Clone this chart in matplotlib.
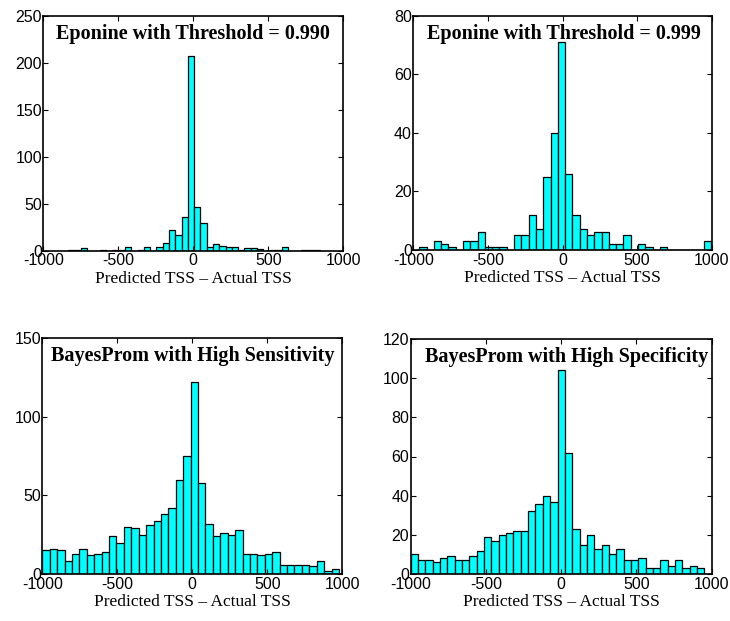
import matplotlib
matplotlib.use("Agg")
import matplotlib.pyplot as plt
import numpy as np

plt.rcParams['axes.unicode_minus'] = False

# histogram counts (40 bins each)
titles = ["Eponine with Threshold = 0.990",
          "Eponine with Threshold = 0.999",
          "BayesProm with High Sensitivity",
          "BayesProm with High Specificity"]

counts_ep990 = [1, 1, 3, 0, 0, 1, 0, 1, 1, 4,
                0, 1, 4, 0, 4, 8, 22, 17, 36, 207,
                46, 29, 4, 7, 5, 4, 4, 1, 3, 3,
                2, 0, 1, 1, 4, 0, 0, 1, 1, 1]
counts_ep999 = [1, 0, 3, 2, 1, 0, 3, 3, 6, 1,
                1, 1, 0, 5, 5, 12, 7, 25, 40, 71,
                26, 12, 7, 5, 6, 6, 2, 2, 5, 0,
                2, 1, 0, 1, 0, 0, 0, 0, 0, 3]
counts_bp_sens = [15, 16, 15, 8, 13, 16, 12, 13, 14, 24,
                  20, 30, 29, 25, 31, 34, 38, 42, 60, 75,
                  122, 58, 32, 24, 26, 25, 28, 13, 13, 12,
                  13, 14, 6, 6, 6, 6, 5, 8, 2, 3]
counts_bp_spec = [10, 7, 7, 6, 8, 9, 7, 7, 9, 12,
                  19, 17, 20, 21, 22, 22, 32, 36, 40, 37,
                  104, 62, 23, 15, 20, 13, 15, 10, 13, 7,
                  7, 8, 3, 3, 7, 4, 7, 3, 4, 3]
all_counts = [counts_ep990, counts_ep999, counts_bp_sens, counts_bp_spec]

# data range covered by the 40 bins (min, max of the differences)
bin_ranges = [(-833, 844), (-960, 995), (-1000, 978), (-1000, 951)]
ylims = [250, 80, 150, 120]
ysteps = [50, 20, 50, 20]
xticks = [-1000, -500, 0, 500, 1000]

W, H = 730, 621
# axes boxes in pixels: left, right, top, bottom
boxes = [(43.3, 343.3, 15.7, 250.7),
         (413.3, 711.7, 15.7, 250.0),
         (42.3, 342.3, 338.3, 574.0),
         (410.7, 711.7, 339.0, 574.0)]
title_x = [0.50, 0.505, 0.50, 0.518]

fig = plt.figure(figsize=(W / 100, H / 100), dpi=100)

for i in range(4):
    l, r, t, b = boxes[i]
    ax = fig.add_axes([l / W, 1 - b / H, (r - l) / W, (b - t) / H])

    lo, hi = bin_ranges[i]
    edges = np.linspace(lo, hi, len(all_counts[i]) + 1)
    ax.bar(edges[:-1], all_counts[i], width=np.diff(edges), align='edge',
           color='#00ffff', edgecolor='black', linewidth=0.9)

    ax.set_xlim(-1000, 1000)
    ax.set_ylim(0, ylims[i])
    ax.set_xticks(xticks)
    ax.set_yticks(np.arange(0, ylims[i] + 1, ysteps[i]))
    ax.tick_params(direction='in', length=3.5, width=0.8, top=True, right=True,
                   labelsize=11.5, pad=2)
    for lab in ax.get_xticklabels() + ax.get_yticklabels():
        lab.set_family('Liberation Sans')
    ax.tick_params(axis='y', pad=1)
    for s in ax.spines.values():
        s.set_linewidth(1.2)

    ax.text(title_x[i], 1 - 18 / (b - t), titles[i], transform=ax.transAxes,
            ha='center', va='center', fontsize=14.5, fontweight='bold',
            family='Liberation Serif')
    ax.set_xlabel("Predicted TSS \u2013 Actual TSS", fontsize=12.5,
                  family='Liberation Serif', labelpad=1.5)

fig.savefig("out.png", dpi=100)
